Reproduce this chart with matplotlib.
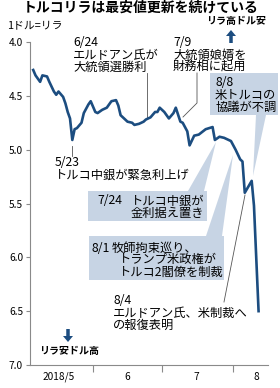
import pandas as pd
import matplotlib.pyplot as plt
from matplotlib.patches import Rectangle, Polygon, FancyArrow
from matplotlib.transforms import Affine2D

plt.rcParams['font.family'] = ['Noto Sans CJK JP', 'DejaVu Sans']

# トルコリラ相場 (1ドル=リラ)
dates = ['2018-05-06', '2018-05-07', '2018-05-09', '2018-05-10', '2018-05-12',
         '2018-05-13', '2018-05-15', '2018-05-16', '2018-05-17', '2018-05-19',
         '2018-05-20', '2018-05-21', '2018-05-22', '2018-05-23', '2018-05-24',
         '2018-05-25', '2018-05-27', '2018-05-28', '2018-05-30', '2018-05-31',
         '2018-06-02', '2018-06-03', '2018-06-05', '2018-06-07', '2018-06-09',
         '2018-06-11', '2018-06-12', '2018-06-13', '2018-06-15', '2018-06-16',
         '2018-06-18', '2018-06-19', '2018-06-21', '2018-06-23', '2018-06-24',
         '2018-06-25', '2018-06-26', '2018-06-28', '2018-06-29', '2018-06-30',
         '2018-07-02', '2018-07-04', '2018-07-06', '2018-07-07', '2018-07-09',
         '2018-07-10', '2018-07-12', '2018-07-13', '2018-07-15', '2018-07-17',
         '2018-07-20', '2018-07-23', '2018-07-24', '2018-07-26', '2018-07-28',
         '2018-07-31', '2018-08-02', '2018-08-04', '2018-08-05', '2018-08-06',
         '2018-08-09', '2018-08-10', '2018-08-12']
rate = [4.26, 4.31, 4.37, 4.31, 4.32,
        4.37, 4.46, 4.49, 4.46, 4.51,
        4.57, 4.65, 4.71, 4.91, 4.81,
        4.80, 4.75, 4.66, 4.58, 4.55,
        4.65, 4.66, 4.63, 4.61, 4.55,
        4.54, 4.59, 4.68, 4.72, 4.74,
        4.75, 4.77, 4.76, 4.74, 4.72,
        4.71, 4.70, 4.65, 4.65, 4.61,
        4.65, 4.71, 4.66, 4.61, 4.74,
        4.75, 4.83, 4.96, 4.87, 4.86,
        4.81, 4.79, 4.91, 4.88, 4.89,
        4.92, 5.00, 5.09, 5.11, 5.40,
        5.29, 5.52, 6.50]

month_starts = ['2018-06-01', '2018-07-01', '2018-08-01']
month_labels = ['2018/5', '6', '7', '8']
month_label_dates = ['2018-05-17', '2018-06-16', '2018-07-16', '2018-08-11']
y_ticks = [4.0, 4.5, 5.0, 5.5, 6.0, 6.5, 7.0]

origin = pd.Timestamp('2018-05-01')
def day(d):
    return (pd.to_datetime(d) - origin).days

line_color = '#1c4d80'
box_color = '#c7d4e4'
gray = '#8a8a8a'

fig = plt.figure(figsize=(2.8, 3.88), dpi=100)
ax = fig.add_axes([30 / 280, 23 / 388, 238 / 280, 323 / 388])
# ピクセル座標 (左上原点)
px = Affine2D().scale(0.01, -0.01).translate(0, 3.88) + fig.dpi_scale_trans

ax.plot(day(dates), rate, color=line_color, lw=1.9, zorder=5, solid_joinstyle='round')

ax.set_xlim(3.6, 107.1)
ax.set_ylim(7.0, 4.0)
ax.set_yticks(y_ticks)
ax.set_yticklabels(['%.1f' % v for v in y_ticks], fontsize=7.3)
ax.set_xticks(day(month_starts))
ax.set_xticklabels([])
ax.set_xticks(day(month_label_dates), minor=True)
ax.set_xticklabels(month_labels, minor=True, fontsize=7.3)
ax.tick_params(axis='x', which='major', length=5, width=0.8, color=gray)
ax.tick_params(axis='x', which='minor', length=0, pad=5)
ax.tick_params(axis='y', length=3, width=0.8, color=gray, pad=2)
for s in ['top', 'right']:
    ax.spines[s].set_visible(False)
for s in ['left', 'bottom']:
    ax.spines[s].set_color(gray)
    ax.spines[s].set_linewidth(0.8)

def txt(x, y, s, **kw):
    kw.setdefault('fontsize', 8.8)
    kw.setdefault('va', 'center')
    ax.text(x, y, s, transform=px, clip_on=False, zorder=7, **kw)

def lines(x, y0, items, dy=12, **kw):
    for i, s in enumerate(items):
        txt(x, y0 + i * dy, s, **kw)

def leader(xs, ys):
    ax.plot(xs, ys, transform=px, color='#555555', lw=0.6, clip_on=False, zorder=4)

def box(x0, y0, x1, y1, wedge):
    ax.add_patch(Rectangle((x0, y0), x1 - x0, y1 - y0, transform=px, fc=box_color,
                           ec='none', clip_on=False, zorder=2))
    ax.add_patch(Polygon(wedge, closed=True, transform=px, fc=box_color, ec='none',
                         clip_on=False, zorder=2))

# タイトルなど
txt(141, 8, 'トルコリラは最安値更新を続けている', fontsize=10, fontweight='bold', ha='center')
txt(7, 25, '1ドル=リラ', fontsize=7.8)
txt(236, 21, 'リラ高ドル安', fontsize=7.2, fontweight='bold', ha='center')
ax.add_patch(FancyArrow(231, 43, 0, -13, width=3.5, head_width=10, head_length=6,
                        length_includes_head=True, transform=px, fc=line_color,
                        ec='none', clip_on=False))
txt(69, 351, 'リラ安ドル高', fontsize=7.2, fontweight='bold', ha='center')
ax.add_patch(FancyArrow(68, 329, 0, 13, width=3.5, head_width=10, head_length=6,
                        length_includes_head=True, transform=px, fc=line_color,
                        ec='none', clip_on=False))

# 出来事
lines(73, 43, ['6/24', 'エルドアン氏が', '大統領選勝利'])
leader([147, 147], [73, 117])
lines(173, 43, ['7/9', '大統領娘婿を', '財務相に起用'])
leader([197, 197, 183], [73, 103, 117])
lines(55, 163, ['5/23', 'トルコ中銀が緊急利上げ'])
leader([72, 72], [146, 156])
lines(113, 301, ['8/4', 'エルドアン氏、米制裁へ', 'の報復表明'])
leader([224, 245], [302, 195])

box(88, 191, 207, 221, [(188, 191), (204, 191), (216, 142)])
txt(97, 201, '7/24')
lines(131, 201, ['トルコ中銀が', '金利据え置き'])

box(89, 236, 224, 280, [(206, 236), (222, 236), (233, 155)])
txt(92, 248, '8/1')
txt(112, 248, '牧師拘束巡り、')
lines(119, 260, ['トランプ米政権が', 'トルコ2閣僚を制裁'])

box(210, 73, 278, 115, [(256, 115), (266, 115), (253, 176)])
lines(215, 83, ['8/8', '米トルコの', '協議が不調'])

fig.savefig('out.png', dpi=100)
